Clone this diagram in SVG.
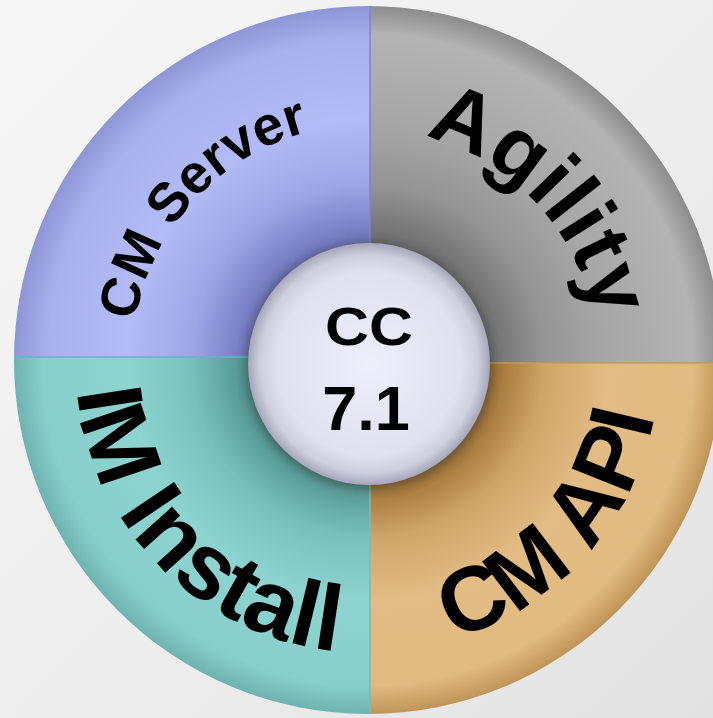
<svg xmlns="http://www.w3.org/2000/svg" width="713" height="718" viewBox="0 0 713 718">
  <style>
    .lbl { font-family: "Liberation Sans", Arial, sans-serif; font-weight: bold; fill: #000; }
  </style>
  <defs>
    <linearGradient id="bg" x1="0" y1="0" x2="1" y2="1">
      <stop offset="0" stop-color="#f7f7f7"/>
      <stop offset="0.6" stop-color="#ececec"/>
      <stop offset="1" stop-color="#e2e2e2"/>
    </linearGradient>
    <radialGradient id="gBlue" gradientUnits="userSpaceOnUse" cx="368" cy="360" r="354">
      <stop offset="0.34" stop-color="#7077bd"/>
      <stop offset="0.5" stop-color="#9ea6e6"/>
      <stop offset="0.68" stop-color="#b2bbf5"/>
      <stop offset="0.9" stop-color="#aab2ee"/>
      <stop offset="1" stop-color="#8e95d6"/>
    </radialGradient>
    <radialGradient id="gGray" gradientUnits="userSpaceOnUse" cx="368" cy="360" r="354">
      <stop offset="0.34" stop-color="#6e6e6e"/>
      <stop offset="0.5" stop-color="#959595"/>
      <stop offset="0.68" stop-color="#a7a7a7"/>
      <stop offset="0.92" stop-color="#b3b3b3"/>
      <stop offset="1" stop-color="#8c8c8c"/>
    </radialGradient>
    <radialGradient id="gTeal" gradientUnits="userSpaceOnUse" cx="368" cy="360" r="354">
      <stop offset="0.34" stop-color="#4f918d"/>
      <stop offset="0.5" stop-color="#78c0bc"/>
      <stop offset="0.68" stop-color="#8dd4d0"/>
      <stop offset="0.92" stop-color="#88cfcb"/>
      <stop offset="1" stop-color="#6fb3b0"/>
    </radialGradient>
    <radialGradient id="gTan" gradientUnits="userSpaceOnUse" cx="368" cy="360" r="354">
      <stop offset="0.34" stop-color="#9a6c30"/>
      <stop offset="0.5" stop-color="#cfa468"/>
      <stop offset="0.68" stop-color="#e2bc84"/>
      <stop offset="0.92" stop-color="#e0ba80"/>
      <stop offset="1" stop-color="#c09458"/>
    </radialGradient>
    <radialGradient id="gCenter" cx="0.5" cy="0.5" r="0.5">
      <stop offset="0" stop-color="#eceefa"/>
      <stop offset="0.75" stop-color="#e0e2f1"/>
      <stop offset="0.9" stop-color="#cdcfdf"/>
      <stop offset="1" stop-color="#a5a6b8"/>
    </radialGradient>
    <clipPath id="ring">
      <circle cx="368" cy="360" r="354"/>
    </clipPath>
    <filter id="blur" x="-20%" y="-20%" width="140%" height="140%">
      <feGaussianBlur stdDeviation="5"/>
    </filter>
    <path id="pServer" d="M 132.9 380.6 A 236 236 0 0 1 368 124"/>
    <path id="pAgility" d="M 376 130.1 A 230 230 0 0 1 597.9 368"/>
    <path id="pInstall" d="M 75.3 347.2 A 293 293 0 0 0 380.8 652.7"/>
    <path id="pApi" d="M 383.3 651.6 A 292 292 0 0 0 659.6 344.7"/>
  </defs>

  <rect x="0" y="0" width="713" height="718" fill="url(#bg)"/>

  <g id="cm-server" clip-path="url(#ring)">
    <rect x="0" y="0" width="370" height="357" fill="url(#gBlue)"/>
    <text class="lbl" font-size="55"><textPath href="#pServer" startOffset="50%" text-anchor="middle">CM Server</textPath></text>
  </g>

  <g id="agility" clip-path="url(#ring)">
    <rect x="370" y="0" width="360" height="363" fill="url(#gGray)"/>
    <text class="lbl" font-size="86"><textPath href="#pAgility" startOffset="50%" text-anchor="middle">Agility</textPath></text>
  </g>

  <g id="im-install" clip-path="url(#ring)">
    <rect x="0" y="357" width="370" height="361" fill="url(#gTeal)"/>
    <text class="lbl" font-size="93"><textPath href="#pInstall" startOffset="50%" text-anchor="middle">IM Install</textPath></text>
  </g>

  <g id="cm-api" clip-path="url(#ring)">
    <rect x="370" y="363" width="360" height="355" fill="url(#gTan)"/>
    <text class="lbl" font-size="91"><textPath href="#pApi" startOffset="50%" text-anchor="middle">CM API</textPath></text>
  </g>

  <g id="dividers" clip-path="url(#ring)" stroke-width="1.5">
    <line x1="370" y1="0" x2="370" y2="357" stroke="#7e86cc"/>
    <line x1="0" y1="357" x2="370" y2="357" stroke="#62b4cc"/>
    <line x1="370" y1="357" x2="370" y2="718" stroke="#8fb894"/>
    <line x1="370" y1="363" x2="713" y2="363" stroke="#c49a5c"/>
  </g>

  <g id="cc-center">
    <circle cx="369" cy="366" r="124" fill="#333" opacity="0.45" filter="url(#blur)"/>
    <circle cx="369" cy="364" r="121" fill="url(#gCenter)"/>
    <text class="lbl" x="369" y="345" font-size="54" text-anchor="middle" textLength="88" lengthAdjust="spacingAndGlyphs">CC</text>
    <text class="lbl" x="366" y="430" font-size="63" text-anchor="middle">7.1</text>
  </g>
</svg>
